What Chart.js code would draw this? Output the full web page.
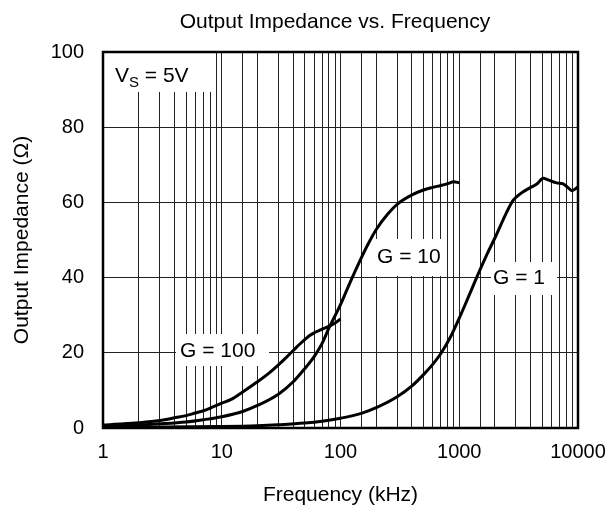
<!DOCTYPE html>
<html>
<head>
<meta charset="utf-8">
<script src="https://cdn.jsdelivr.net/npm/chart.js@4"></script>
<style>
  html, body { margin: 0; padding: 0; background: #fff; }
  #wrap { width: 606px; height: 506px; }
</style>
</head>
<body>
<div id="wrap"><canvas id="c" width="606" height="506"></canvas></div>
<script>
// ---- data ----
const xTickLabels = ['1', '10', '100', '1000', '10000'];
const yTickValues = [0, 20, 40, 60, 80, 100];

const freqG100 = [1, 1.5, 2, 3, 4, 5, 6, 7, 8, 10, 12, 15, 20, 25, 30, 35, 40, 45, 50, 55, 60, 65, 70, 80, 90, 100];
const zG100    = [0.8, 1.1, 1.4, 2.0, 2.7, 3.3, 4.0, 4.6, 5.3, 6.6, 7.6, 9.6, 12.3, 14.6, 16.8, 18.8, 20.6, 22.2, 23.5, 24.6, 25.3, 25.8, 26.3, 27.0, 27.9, 29.0];

const freqG10 = [1, 2, 3, 5, 7, 10, 15, 20, 30, 40, 50, 60, 70, 80, 100, 120, 150, 170, 200, 250, 300, 400, 500, 600, 700, 800, 900, 1000];
const zG10    = [0.5, 0.8, 1.1, 1.6, 2.2, 3.0, 4.4, 6.0, 9.0, 12.3, 15.8, 19.0, 22.5, 26.6, 32.8, 38.6, 45.3, 48.8, 52.8, 56.9, 59.5, 62.0, 63.3, 64.0, 64.5, 65.0, 65.5, 65.2];

const freqG1 = [1, 3, 10, 20, 30, 50, 70, 100, 150, 200, 300, 400, 500, 600, 700, 850, 1000, 1200, 1400, 1700, 2000, 2500, 2850, 3300, 3900, 4500, 5100, 5600, 6600, 7500, 8200, 8900, 9400, 10000];
const zG1    = [0.2, 0.25, 0.4, 0.6, 0.85, 1.3, 1.8, 2.6, 3.9, 5.4, 8.3, 11.2, 14.2, 17.0, 19.8, 24.4, 29.2, 35.0, 40.0, 46.0, 50.6, 57.3, 60.6, 62.4, 63.8, 64.9, 66.4, 66.0, 65.2, 64.9, 64.0, 63.1, 63.5, 64.2];

const seriesNames = ['G = 100', 'G = 10', 'G = 1'];
const chartTitle = 'Output Impedance vs. Frequency';
const xTitle = 'Frequency (kHz)';
const yTitle = 'Output Impedance (\u03A9)';

// ---- build ----
function pts(xs, ys) { return xs.map((x, i) => ({ x: x, y: ys[i] })); }
const FONT = '"Liberation Sans", Arial, sans-serif';

const lineStyle = {
  borderColor: '#000', borderWidth: 3, pointRadius: 0, fill: false,
  cubicInterpolationMode: 'monotone', showLine: true
};

const labelPlugin = {
  id: 'labels',
  beforeDatasetsDraw(chart) {
    const ctx = chart.ctx;
    ctx.save();
    ctx.fillStyle = '#fff';
    // white boxes behind labels (hide grid)
    const boxes = [
      [104, 53, 108, 39],
      [176, 334, 93, 32],
      [371, 239, 75, 37],
      [491, 262, 66, 33]
    ];
    boxes.forEach(b => ctx.fillRect(b[0], b[1], b[2], b[3]));
    ctx.fillStyle = '#000';
    ctx.textBaseline = 'middle';
    ctx.textAlign = 'left';
    ctx.font = '21px ' + FONT;
    ctx.fillText(seriesNames[0], 180, 351);
    ctx.fillText(seriesNames[1], 377, 257);
    ctx.fillText(seriesNames[2], 493, 278);
    // V_S = 5V
    ctx.textBaseline = 'alphabetic';
    ctx.fillText('V', 115, 82);
    let w = ctx.measureText('V').width;
    ctx.font = '15px ' + FONT;
    ctx.fillText('S', 115 + w, 87);
    let w2 = ctx.measureText('S').width;
    ctx.font = '21px ' + FONT;
    ctx.fillText(' = 5V', 115 + w + w2, 82);
    ctx.restore();
  },
  afterDraw(chart) {
    const ctx = chart.ctx;
    const a = chart.chartArea;
    ctx.save();
    ctx.strokeStyle = '#000';
    ctx.lineWidth = 2.5;
    ctx.strokeRect(a.left, a.top, a.right - a.left, a.bottom - a.top);
    // chart title
    ctx.fillStyle = '#000';
    ctx.font = '21px ' + FONT;
    ctx.textAlign = 'center';
    ctx.textBaseline = 'middle';
    ctx.fillText(chartTitle, 335, 22);
    ctx.restore();
  }
};

new Chart(document.getElementById('c'), {
  type: 'scatter',
  data: {
    datasets: [
      Object.assign({ label: seriesNames[0], data: pts(freqG100, zG100) }, lineStyle),
      Object.assign({ label: seriesNames[1], data: pts(freqG10, zG10) }, lineStyle),
      Object.assign({ label: seriesNames[2], data: pts(freqG1, zG1) }, lineStyle)
    ]
  },
  options: {
    responsive: false,
    animation: false,
    devicePixelRatio: 1,
    layout: { padding: { top: 52, right: 28, bottom: 0, left: 0 } },
    plugins: { legend: { display: false }, tooltip: { enabled: false }, title: { display: false } },
    scales: {
      x: {
        type: 'logarithmic',
        min: 1, max: 10000,
        afterFit(s) { s.height = 78; s.paddingLeft = 0; s.paddingRight = 0; },
        grid: { color: '#222', lineWidth: 1, drawTicks: false },
        border: { display: false },
        ticks: {
          autoSkip: false, maxRotation: 0, padding: 12,
          color: '#000', font: { family: FONT, size: 20 },
          callback: (v) => xTickLabels.includes(String(v)) ? String(v) : ''
        },
        title: { display: true, text: xTitle, color: '#000', font: { family: FONT, size: 21, lineHeight: 1 }, padding: { top: 0, bottom: 0 } }
      },
      y: {
        min: 0, max: 100,
        afterFit(s) { s.width = 103; s.paddingTop = 0; s.paddingBottom = 0; },
        afterBuildTicks(s) { s.ticks = yTickValues.map(v => ({ value: v })); },
        grid: { color: '#222', lineWidth: 1, drawTicks: false },
        border: { display: false },
        ticks: { padding: 19, color: '#000', font: { family: FONT, size: 20 } },
        title: { display: true, text: yTitle, color: '#000', font: { family: FONT, size: 21, lineHeight: 1 }, padding: { top: 12, bottom: 0 } }
      }
    }
  },
  plugins: [labelPlugin]
});
</script>
</body>
</html>
